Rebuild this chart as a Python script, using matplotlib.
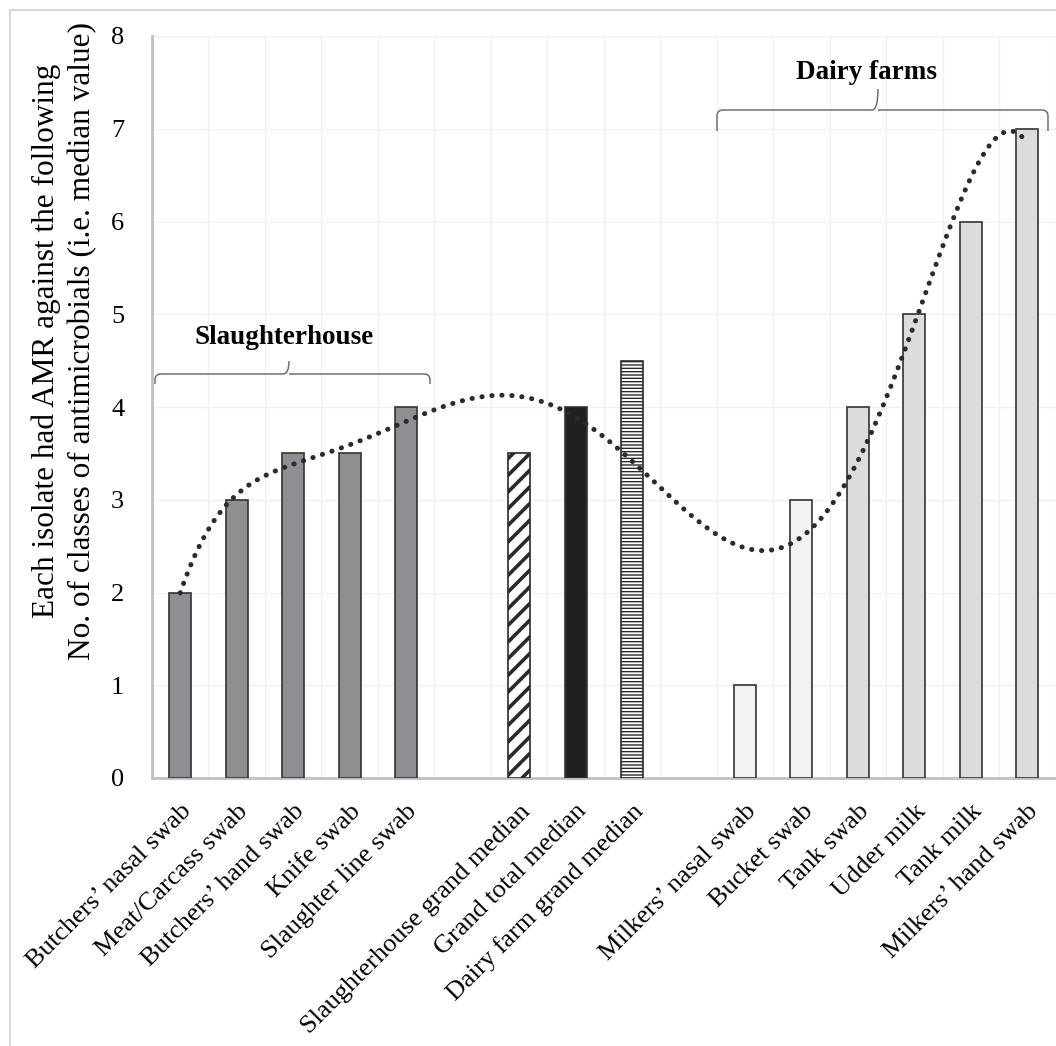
import numpy as np
import matplotlib
matplotlib.use("Agg")
import matplotlib.pyplot as plt
from matplotlib.patches import Rectangle, PathPatch
from matplotlib.path import Path

plt.rcParams['font.family'] = ['Liberation Serif', 'DejaVu Serif']

categories = ["Butchers’ nasal swab", "Meat/Carcass swab", "Butchers’ hand swab",
              "Knife swab", "Slaughter line swab", "",
              "Slaughterhouse grand median", "Grand total median", "Dairy farm grand median", "",
              "Milkers’ nasal swab", "Bucket swab", "Tank swab", "Udder milk",
              "Tank milk", "Milkers’ hand swab"]
values = [2, 3, 3.5, 3.5, 4, None, 3.5, 4, 4.5, None, 1, 3, 4, 5, 6, 7]
colors = ["#8f8f93"] * 5 + [None] + ["white", "#231f20", "white"] + [None] + \
         ["#f1f2f4", "#f1f2f4", "#dcdcde", "#dcdcde", "#dcdcde", "#dcdcde"]
hatches = [None] * 6 + ["//", None, "-----"] + [None] * 7
hatch_lw = {"//": 2.6, "-----": 1.0}

W, H = 1056, 1046
fig = plt.figure(figsize=(W / 100, H / 100), dpi=100)
L, R, T, B = 152, 1055.5, 36, 778
ax = fig.add_axes([L / W, 1 - B / H, (R - L) / W, (B - T) / H])

x = np.arange(1, len(categories) + 1)
for xi, v, c, h in zip(x, values, colors, hatches):
    if v is None:
        continue
    if h:
        with plt.rc_context({'hatch.linewidth': hatch_lw[h], 'hatch.color': '#1a1a1a'}):
            ax.bar(xi, v, width=0.39, color='white', edgecolor='#2a2a2a', hatch=h,
                   linewidth=1.2, zorder=3)
    else:
        ax.bar(xi, v, width=0.39, color=c, edgecolor='#333333', linewidth=1.2, zorder=3)

# polynomial trendline (like Excel order-6 polynomial trend)
xs = np.array([xi for xi, v in zip(x, values) if v is not None], dtype=float)
ys = np.array([v for v in values if v is not None], dtype=float)
coef = np.polyfit(xs, ys, 6)
xt = np.linspace(1, 16, 400)
ax.plot(xt, np.polyval(coef, xt), color='#2b2b2b', linewidth=3.6,
        linestyle=(0, (0.05, 1.95)), dash_capstyle='round', zorder=4)

ax.set_xlim(0.5, 16.5)
ax.set_ylim(0, 8)
ax.set_yticks(range(0, 9))
ax.tick_params(axis='y', labelsize=19, length=0, pad=20)
ax.set_xticks(x)
ax.set_xticklabels(categories, rotation=45, ha='right', rotation_mode='anchor', fontsize=19)
ax.tick_params(axis='x', length=0, pad=16)
ax.set_xticks(np.arange(0.5, 17, 1), minor=True)
ax.tick_params(axis='x', which='minor', length=0)
ax.grid(True, axis='y', color='#f0f0f0', linewidth=1, zorder=0)
ax.grid(True, axis='x', which='minor', color='#f0f0f0', linewidth=1, zorder=0)
ax.grid(False, axis='x', which='major')
for s in ['top', 'right']:
    ax.spines[s].set_visible(False)
for s in ['left', 'bottom']:
    ax.spines[s].set_color('#c0c0c0')
    ax.spines[s].set_linewidth(2)

fig.text(64 / W, 1 - 341 / H,
         "Each isolate had AMR against the following\nNo. of classes of antimicrobials (i.e. median value)",
         rotation=90, ha='center', va='center', fontsize=22.5, linespacing=1.3)


def brace(x0, x1, xm, yb, yl, yt):
    r = 6
    verts = [(x0, yb), (x0, yl + r), (x0, yl), (x0 + r, yl),
             (xm - r, yl), (xm, yl), (xm, yt),
             (xm, yl), (xm + r, yl),
             (x1 - r, yl), (x1, yl), (x1, yl + r), (x1, yb)]
    codes = [Path.MOVETO, Path.LINETO, Path.CURVE3, Path.CURVE3,
             Path.LINETO, Path.CURVE3, Path.CURVE3,
             Path.MOVETO, Path.LINETO,
             Path.LINETO, Path.CURVE3, Path.CURVE3, Path.LINETO]
    verts = [(vx / W, 1 - vy / H) for vx, vy in verts]
    fig.add_artist(PathPatch(Path(verts, codes), transform=fig.transFigure,
                             fill=False, edgecolor='#707070', linewidth=1.1))


brace(155, 430, 289, 384, 374, 361)
brace(717, 1048, 878, 131, 110, 89)
fig.text(284 / W, 1 - 337 / H, "Slaughterhouse", ha='center', va='center',
         fontsize=19.5, fontweight='bold')
fig.text(867 / W, 1 - 72 / H, "Dairy farms", ha='center', va='center',
         fontsize=19.5, fontweight='bold')

fig.add_artist(Rectangle((10 / W, -0.1), 1.2, 1.1 - 10 / H, transform=fig.transFigure,
                         fill=False, edgecolor='#d9d9d9', linewidth=1.5))

fig.savefig("out.png", dpi=100)
